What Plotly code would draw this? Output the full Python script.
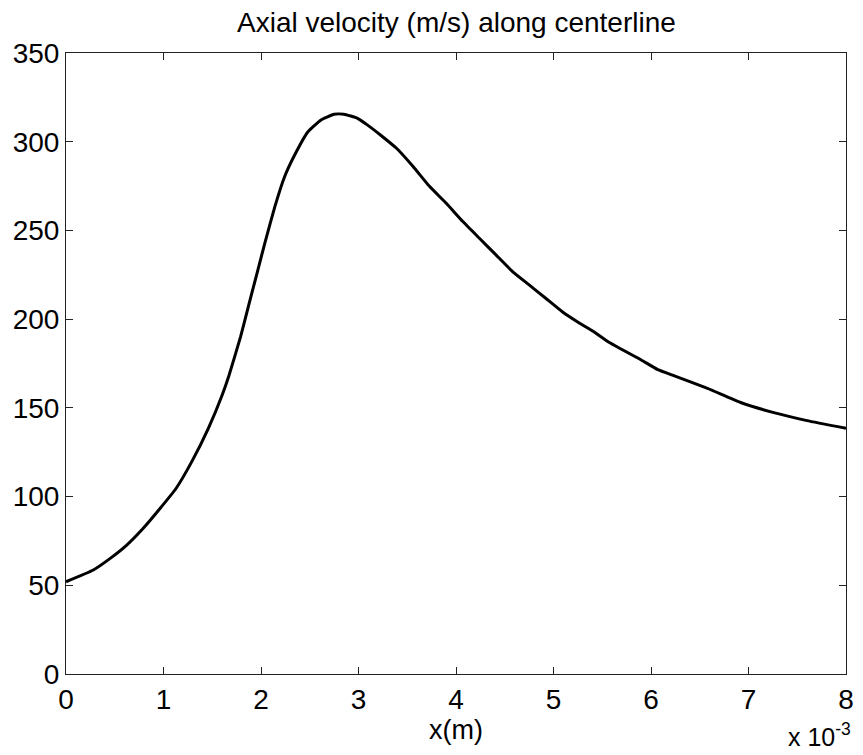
import plotly.graph_objects as go

# x in units of 1e-3 m
x_vals = [0, 0.28, 0.45, 0.62, 0.79, 0.96, 1.13, 1.29, 1.46, 1.6, 1.67, 1.79, 1.87,
          1.955, 2.04, 2.14, 2.24, 2.345, 2.48, 2.615, 2.75, 2.85, 2.99, 3.09, 3.225,
          3.39, 3.56, 3.73, 3.9, 4.07, 4.24, 4.41, 4.58, 4.75, 4.92, 5.09, 5.26, 5.41,
          5.56, 5.9, 6.07, 6.24, 6.58, 6.92, 7.26, 7.6, 8.0]
y_vals = [52, 58.6, 65, 72.5, 82, 93, 104.7, 119.7, 138.5, 157, 168, 190, 207,
          225, 243, 263, 280, 292.5, 305.5, 312.3, 315.5, 315.5, 313.2, 309.5, 303.8,
          296.3, 286, 274.7, 265.3, 255, 245.6, 236.2, 226.8, 219.3, 211.8, 204.2, 198, 193,
          187.3, 177, 171.5, 168, 161, 153, 147.3, 142.8, 138.5]

x_ticks = [0, 1, 2, 3, 4, 5, 6, 7, 8]
y_ticks = [0, 50, 100, 150, 200, 250, 300, 350]

FONT = "Liberation Sans, Arial, sans-serif"

fig = go.Figure()
fig.add_trace(go.Scatter(x=x_vals, y=y_vals, mode="lines",
                         line=dict(color="black", width=3, shape="spline", smoothing=0.4),
                         showlegend=False, hoverinfo="skip"))

axis_common = dict(showgrid=False, zeroline=False, showline=True, linecolor="#222",
                   linewidth=1, mirror="ticks", ticks="inside", ticklen=7, tickcolor="#222",
                   tickfont=dict(family=FONT, size=28, color="black"))

fig.update_layout(
    width=863, height=755,
    margin=dict(l=66, r=9, t=53, b=81),
    paper_bgcolor="white", plot_bgcolor="white",
    xaxis=dict(range=[0, 8], tickvals=x_ticks, ticktext=[str(t) for t in x_ticks], **axis_common),
    yaxis=dict(range=[0, 350], tickvals=y_ticks, ticktext=[str(t) for t in y_ticks], **axis_common),
    annotations=[
        dict(text="Axial velocity (m/s) along centerline", x=0.5, y=1, xref="paper", yref="paper",
             yshift=31, xanchor="center", yanchor="middle", showarrow=False,
             font=dict(family=FONT, size=28, color="black")),
        dict(text="x(m)", x=0.5, y=0, xref="paper", yref="paper", yshift=-56,
             xanchor="center", yanchor="middle", showarrow=False,
             font=dict(family=FONT, size=27, color="black")),
        dict(text="x 10<sup>-3</sup>", x=1, y=0, xref="paper", yref="paper", yshift=-61,
             xanchor="right", yanchor="middle", showarrow=False, xshift=7,
             font=dict(family=FONT, size=25, color="black")),
    ],
)

fig.write_html("out.html")
